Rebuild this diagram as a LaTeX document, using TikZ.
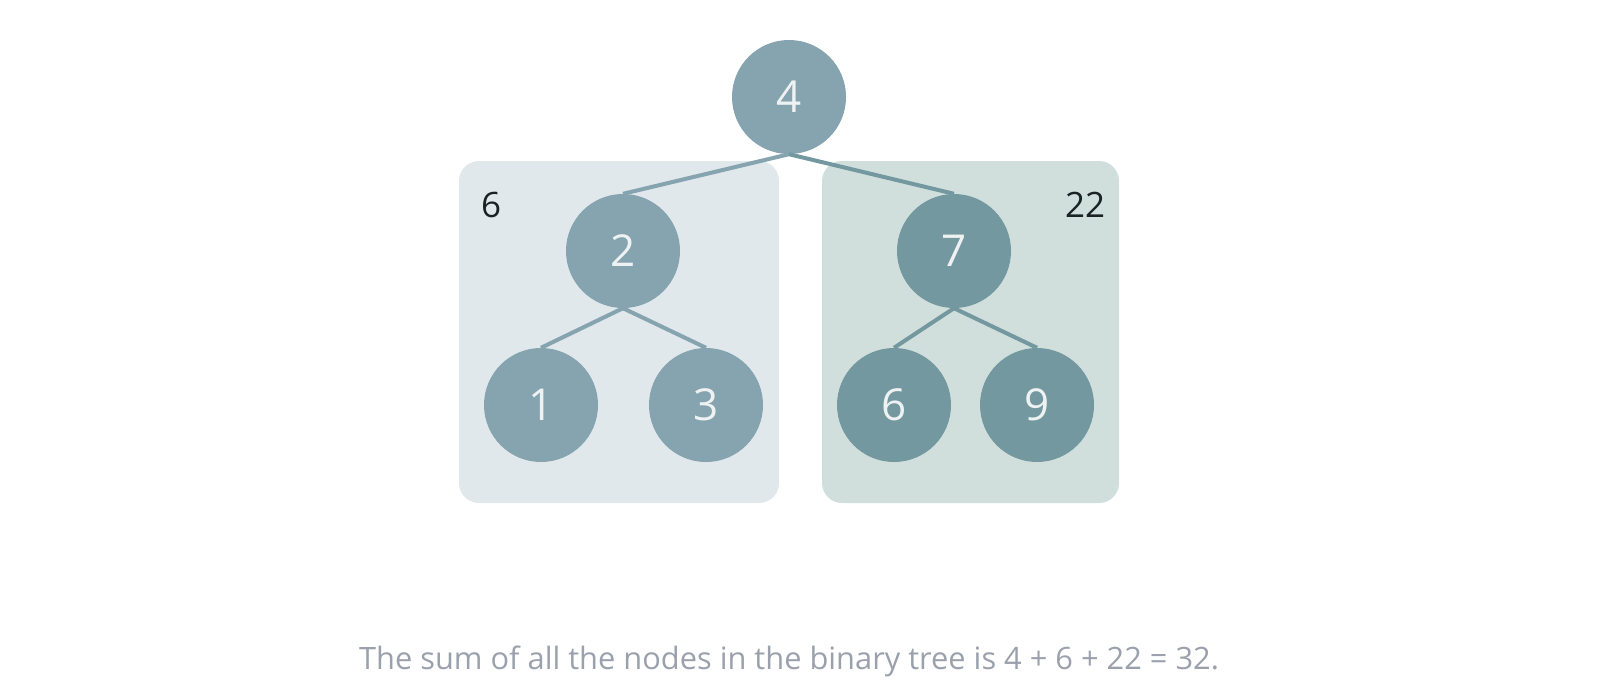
\documentclass[tikz,border=0pt]{standalone}
\usepackage{fontspec}
\setmainfont{Open Sans}
\definecolor{nodeL}{HTML}{86A3B0}
\definecolor{nodeR}{HTML}{73989F}
\definecolor{boxL}{HTML}{E0E8EB}
\definecolor{boxR}{HTML}{D0DFDC}
\definecolor{numc}{HTML}{EEF2F2}
\definecolor{lbl}{HTML}{1A2224}
\definecolor{cap}{HTML}{9AA0AC}
\begin{document}
\begin{tikzpicture}[x=1pt,y=-1pt,
  tnode/.style={circle,minimum size=114pt,inner sep=0pt,text=numc,font=\fontsize{44}{44}\selectfont},
  lnode/.style={tnode,fill=nodeL},
  rnode/.style={tnode,fill=nodeR},
  edge/.style={line width=4pt},
  sumlbl/.style={text=lbl,font=\fontsize{35}{35}\selectfont,inner sep=0pt}]
\useasboundingbox (0,0) rectangle (1600,698);
\fill[boxL,rounded corners=20pt] (459,161) rectangle (779,503);
\fill[boxR,rounded corners=20pt] (822,161) rectangle (1119,503);
\node[lnode] (n4) at (789,97) {4};
\node[lnode] (n2) at (623,251) {2};
\node[rnode] (n7) at (954,251) {7};
\node[lnode] (n1) at (541,405) {1};
\node[lnode] (n3) at (706,405) {3};
\node[rnode] (n6) at (894,405) {6};
\node[rnode] (n9) at (1037,405) {9};
\draw[edge,nodeL] (n4.south) -- (n2.north);
\draw[edge,nodeR] (n4.south) -- (n7.north);
\draw[edge,nodeL] (n2.south) -- (n1.north);
\draw[edge,nodeL] (n2.south) -- (n3.north);
\draw[edge,nodeR] (n7.south) -- (n6.north);
\draw[edge,nodeR] (n7.south) -- (n9.north);
\node[sumlbl] (s6) at (491,205) {6};
\node[sumlbl] (s22) at (1085,205) {22};
\node[text=cap,font=\fontsize{30.8}{30.8}\selectfont,inner sep=0pt] (caption) at (789,661) {The sum of all the nodes in the binary tree is 4 + 6 + 22 = 32.};
\end{tikzpicture}
\end{document}
